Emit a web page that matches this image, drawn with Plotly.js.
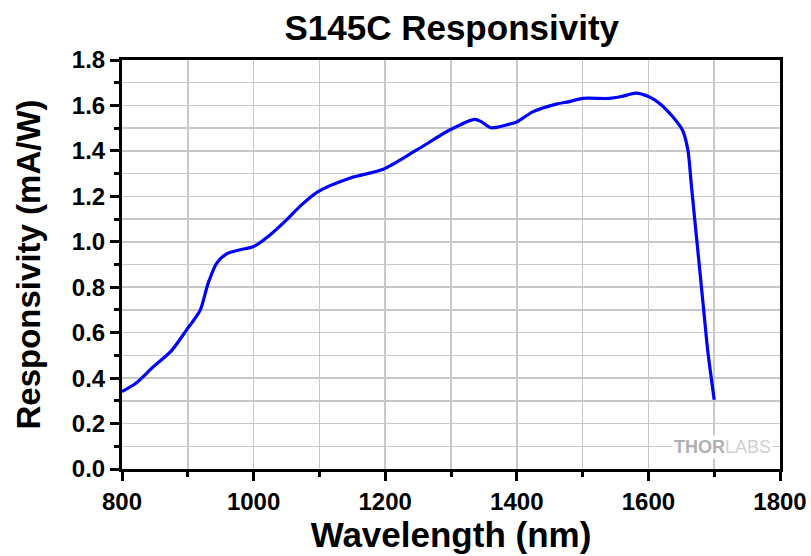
<!DOCTYPE html>
<html>
<head>
<meta charset="utf-8">
<script src="https://cdn.plot.ly/plotly-3.0.1.min.js"></script>
<style>html,body{margin:0;padding:0;background:#fff;}#chart{width:811px;height:556px;}</style>
</head>
<body>
<div id="chart"></div>
<script>
const wavelength = [800, 820, 848, 875, 900, 906, 919, 931, 944, 959, 980, 1000, 1025, 1050, 1070, 1098, 1146, 1197, 1248, 1298, 1336, 1346, 1361, 1389, 1399, 1425, 1460, 1480, 1500, 1541, 1560, 1581, 1600, 1617, 1637, 1652, 1660, 1665, 1670, 1675, 1680, 1685, 1690, 1700];
const responsivity = [0.341, 0.375, 0.451, 0.52, 0.62, 0.643, 0.70, 0.818, 0.906, 0.947, 0.965, 0.979, 1.03, 1.096, 1.155, 1.221, 1.28, 1.319, 1.404, 1.492, 1.539, 1.529, 1.502, 1.518, 1.526, 1.573, 1.606, 1.617, 1.631, 1.631, 1.64, 1.654, 1.639, 1.609, 1.55, 1.49, 1.404, 1.258, 1.11, 0.965, 0.818, 0.671, 0.525, 0.305];
const xTickVals = [800, 1000, 1200, 1400, 1600, 1800];
const yTickVals = [0.0, 0.2, 0.4, 0.6, 0.8, 1.0, 1.2, 1.4, 1.6, 1.8];
const yTickText = ['0.0', '0.2', '0.4', '0.6', '0.8', '1.0', '1.2', '1.4', '1.6', '1.8'];

const font = 'Liberation Sans, Arial, Helvetica, sans-serif';

const trace = {
  x: wavelength,
  y: responsivity,
  mode: 'lines',
  type: 'scatter',
  line: {color: '#0000ff', width: 3.2, shape: 'spline', smoothing: 0.8},
  hoverinfo: 'x+y'
};

const layout = {
  width: 811, height: 556,
  margin: {l: 122, r: 31, t: 60, b: 87},
  paper_bgcolor: '#fff', plot_bgcolor: '#fff',
  showlegend: false,
  title: {text: '<b>S145C Responsivity</b>', font: {family: font, size: 35, color: '#000'}, x: 0.557, xanchor: 'center', y: 0.95, yanchor: 'middle'},
  xaxis: {
    range: [800, 1800],
    tickvals: xTickVals,
    ticktext: xTickVals.map(String),
    ticks: 'outside', ticklen: 9, tickwidth: 3, tickcolor: '#000',
    minor: {dtick: 100, tick0: 800, ticks: 'outside', ticklen: 5, tickwidth: 3, tickcolor: '#000', showgrid: true, gridcolor: '#c8c8c8', gridwidth: 1.5},
    showgrid: true, gridcolor: '#c8c8c8', gridwidth: 1.5,
    showline: true, linecolor: '#000', linewidth: 3, mirror: true,
    zeroline: false,
    tickfont: {family: font, size: 24, color: '#000', weight: 'bold'},
    title: {text: '<b>Wavelength (nm)</b>', font: {family: font, size: 35, color: '#000'}, standoff: 6}
  },
  yaxis: {
    range: [0, 1.8],
    tickvals: yTickVals,
    ticktext: yTickText,
    ticks: 'outside', ticklen: 9, tickwidth: 3, tickcolor: '#000',
    minor: {dtick: 0.1, tick0: 0, ticks: 'outside', ticklen: 5, tickwidth: 3, tickcolor: '#000', showgrid: true, gridcolor: '#c8c8c8', gridwidth: 1.5},
    showgrid: true, gridcolor: '#c8c8c8', gridwidth: 1.5,
    showline: true, linecolor: '#000', linewidth: 3, mirror: true,
    zeroline: false,
    tickfont: {family: font, size: 24, color: '#000', weight: 'bold'},
    title: {text: '<b>Responsivity (mA/W)</b>', font: {family: font, size: 33, color: '#000'}, standoff: 22}
  },
  annotations: [{
    xref: 'paper', yref: 'paper', x: 0.989, y: 0.055, xanchor: 'right', yanchor: 'middle',
    text: '<b>THOR</b><span style="color:#d0d0d0">LABS</span>', showarrow: false,
    font: {family: font, size: 18, color: '#b0b0b0'},
    bgcolor: '#fff', borderpad: 1
  }]
};

Plotly.newPlot('chart', [trace], layout, {displayModeBar: false, staticPlot: true});
</script>
</body>
</html>
